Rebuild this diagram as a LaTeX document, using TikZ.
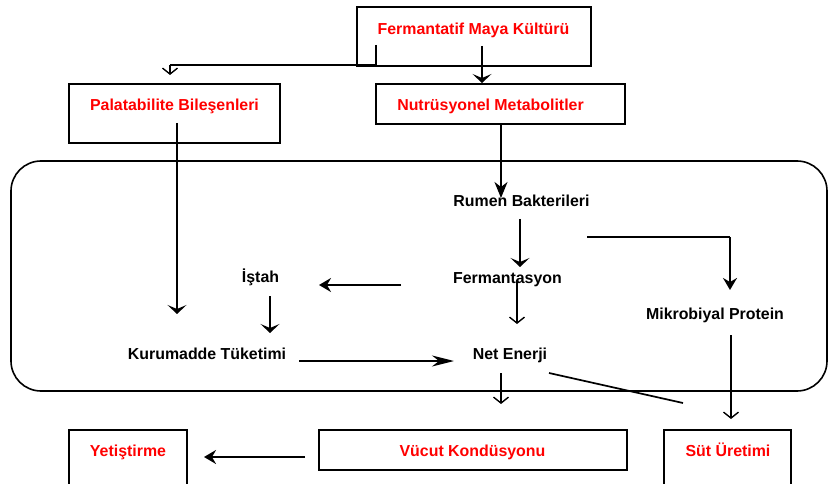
\documentclass[tikz,border=0pt]{standalone}
\usepackage{fontspec}
\setmainfont{Liberation Sans}
\usetikzlibrary{arrows.meta}
\definecolor{lblred}{HTML}{FF0000}
\begin{document}
\begin{tikzpicture}[x=1pt,y=-1pt,
  lbl/.style={font=\fontsize{15.9}{18}\selectfont\bfseries, inner sep=0pt, anchor=base},
  redlbl/.style={lbl, text=lblred},
  boxshape/.style={draw, line width=1.5pt, inner sep=0pt},
  conn/.style={line width=1.7pt},
  bigarr/.style={conn, -{Stealth[length=10pt,width=17pt,inset=4pt]}},
  longarr/.style={conn, -{Stealth[length=16pt,width=13pt,inset=5pt]}},
  midarr/.style={conn, -{Stealth[length=12pt,width=14pt,inset=4pt]}},
  flatarr/.style={conn, -{Stealth[length=9pt,width=19pt,inset=4pt]}},
  thinarr/.style={conn, -{Straight Barb[length=6pt,width=15pt,line width=1.4pt]}},
]
\useasboundingbox (0,0) rectangle (828,484);

% big rounded frame
\draw[line width=1.6pt, rounded corners=30pt] (11,161) rectangle (827,391);

% boxes
\node[boxshape, minimum width=234pt, minimum height=59pt] (fmkbox) at (474,36.5) {};
\node[boxshape, minimum width=211pt, minimum height=59pt] (pbbox) at (174.5,113.5) {};
\node[boxshape, minimum width=249pt, minimum height=40pt] (nmbox) at (500.5,104) {};
\node[boxshape, minimum width=118pt, minimum height=60pt] (yetbox) at (128,460) {};
\node[boxshape, minimum width=308pt, minimum height=40pt] (vucbox) at (473,450) {};
\node[boxshape, minimum width=127pt, minimum height=60pt] (sutbox) at (727.5,460) {};

% labels
\node[redlbl] (fmk) at (473.5,35) {Fermantatif Maya Kültürü};
\node[redlbl] (pb) at (174.5,111) {Palatabilite Bileşenleri};
\node[redlbl] (nm) at (490.5,111) {Nutrüsyonel Metabolitler};
\node[lbl] (rumen) at (521.5,206.5) {Rumen Bakterileri};
\node[lbl] (ferm) at (507.5,283.3) {Fermantasyon};
\node[lbl] (istah) at (260.5,282.7) {İştah};
\node[lbl] (kuru) at (207,359) {Kurumadde Tüketimi};
\node[lbl] (net) at (510,359) {Net Enerji};
\node[lbl] (mikro) at (715,319) {Mikrobiyal Protein};
\node[redlbl] (yet) at (128,456.7) {Yetiştirme};
\node[redlbl] (vuc) at (472.5,456.7) {Vücut Kondüsyonu};
\node[redlbl] (sut) at (728,456.7) {Süt Üretimi};

% connector end points
\coordinate (fmkA) at (376,45);
\coordinate (fmkB) at (376,65);
\coordinate (pbIn) at (170,65);
\coordinate (pbTop) at (170,75);
\coordinate (fmkC) at (482,46);
\coordinate (nmTop) at (482,83);
\coordinate (pbA) at (177,123);
\coordinate (kuruTop) at (177,314);
\coordinate (nmA) at (501,124);
\coordinate (rumTop) at (501,198);
\coordinate (rumA) at (520,219);
\coordinate (ferTop) at (520,267);
\coordinate (rumB) at (587,237);
\coordinate (rumC) at (730,237);
\coordinate (mikTop) at (730,290);
\coordinate (ferA) at (517,280);
\coordinate (netTop) at (517,324);
\coordinate (ferL) at (401,285);
\coordinate (istR) at (319,285);
\coordinate (istA) at (270,296);
\coordinate (kuruT) at (270,333);
\coordinate (kuruR) at (299,361);
\coordinate (netL) at (454,361);
\coordinate (netA) at (501,373);
\coordinate (vucTop) at (501,404);
\coordinate (netB) at (549,373);
\coordinate (netEnd) at (683,403);
\coordinate (mikA) at (731,335);
\coordinate (sutTop) at (731,419);
\coordinate (vucL) at (305,457);
\coordinate (yetR) at (204,457);

% connectors
\draw[conn] (fmkA) -- (fmkB) -- (pbIn);
\draw[thinarr] (pbIn) -- (pbTop);
\draw[flatarr] (fmkC) -- (nmTop);
\draw[flatarr] (pbA) -- (kuruTop);
\draw[longarr] (nmA) -- (rumTop);
\draw[flatarr] (rumA) -- (ferTop);
\draw[conn] (rumB) -- (rumC);
\draw[midarr] (rumC) -- (mikTop);
\draw[thinarr] (ferA) -- (netTop);
\draw[midarr] (ferL) -- (istR);
\draw[flatarr] (istA) -- (kuruT);
\draw[conn, -{Stealth[length=22pt,width=11pt,inset=7pt]}] (kuruR) -- (netL);
\draw[thinarr] (netA) -- (vucTop);
\draw[conn] (netB) -- (netEnd);
\draw[thinarr] (mikA) -- (sutTop);
\draw[midarr] (vucL) -- (yetR);
\end{tikzpicture}
\end{document}
